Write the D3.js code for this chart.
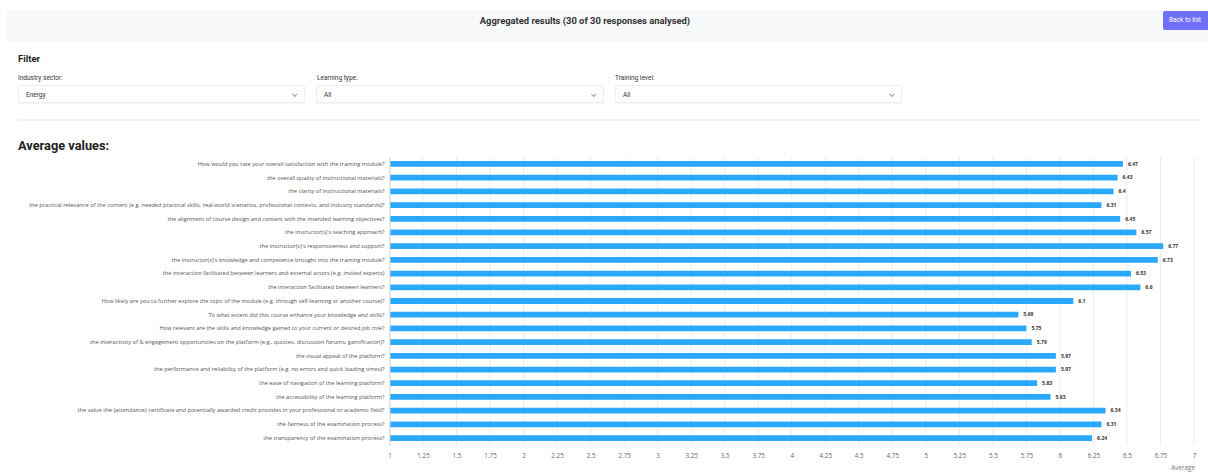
<!DOCTYPE html>
<html>
<head>
<meta charset="utf-8">
<script src="https://cdn.jsdelivr.net/npm/d3@7"></script>
<style>
  html, body { margin: 0; padding: 0; background: #fff; width: 1208px; height: 476px; overflow: hidden; font-family: Roboto, "Noto Sans", sans-serif; }
  .abs { position: absolute; }
  #header { left: 7px; top: 10px; width: 1201px; height: 32px; background: #f7f8fa; }
  #title { left: 7px; top: 10px; width: 1156px; height: 22px; line-height: 22px; text-align: center; font-size: 9.4px; font-weight: 700; color: #333; }
  #btn { left: 1163px; top: 11px; width: 48px; height: 19px; background: #6f6ff7; border-radius: 2px; color: #fff; font-size: 6.5px; line-height: 19px; text-indent: 6px; }
  #filter { left: 18px; top: 53px; font-size: 9.5px; font-weight: 700; color: #222; }
  .lbl { top: 74px; font-size: 6.5px; color: #333; }
  .sel { top: 85px; height: 18px; border: 1px solid #eceef0; border-radius: 2px; box-shadow: 0 1px 2px rgba(0,0,0,0.05); font-size: 6.5px; color: #333; line-height: 18px; box-sizing: border-box; padding-left: 7px; }
  .chev { position: absolute; right: 8px; top: 6px; width: 2.5px; height: 2.5px; border-right: 1px solid #999; border-bottom: 1px solid #999; transform: rotate(45deg); }
  #sep { left: 18px; top: 119px; width: 1182px; height: 2px; background: #f0f1f3; }
  #avg { left: 18px; top: 138px; font-size: 12.8px; font-weight: 700; color: #222; }
  svg { position: absolute; left: 0; top: 0; }
</style>
</head>
<body>
<div id="header" class="abs"></div>
<div id="title" class="abs">Aggregated results (30 of 30 responses analysed)</div>
<div id="btn" class="abs">Back to list</div>
<div id="filter" class="abs">Filter</div>
<div class="abs lbl" style="left:18px">Industry sector:</div>
<div class="abs lbl" style="left:317px">Learning type:</div>
<div class="abs lbl" style="left:615px">Training level:</div>
<div class="abs sel" style="left:18px;width:287px">Energy<span class="chev"></span></div>
<div class="abs sel" style="left:316px;width:288px">All<span class="chev"></span></div>
<div class="abs sel" style="left:615px;width:287px">All<span class="chev"></span></div>
<div id="sep" class="abs"></div>
<div id="avg" class="abs">Average values:</div>
<svg id="chart" width="1208" height="476"></svg>
<script>
const questions = [
  "How would you rate your overall satisfaction with the training module?",
  "the overall quality of instructional materials?",
  "the clarity of instructional materials?",
  "the practical relevance of the content (e.g. needed practical skills, real-world scenarios, professional contexts, and industry standards)?",
  "the alignment of course design and content with the intended learning objectives?",
  "the instructor(s)'s teaching approach?",
  "the instructor(s)'s responsiveness and support?",
  "the instructor(s)'s knowledge and competence brought into the training module?",
  "the interaction facilitated between learners and external actors (e.g. invited experts)",
  "the interaction facilitated between learners?",
  "How likely are you to further explore the topic of the module (e.g. through self-learning or another course)?",
  "To what extent did this course enhance your knowledge and skills?",
  "How relevant are the skills and knowledge gained to your current or desired job role?",
  "the interactivity of & engagement opportunities on the platform (e.g., quizzes, discussion forums, gamification)?",
  "the visual appeal of the platform?",
  "the performance and reliability of the platform (e.g. no errors and quick loading times)?",
  "the ease of navigation of the learning platform?",
  "the accessibility of the learning platform?",
  "the value the (attendance) certificate and potentially awarded credit provides in your professional or academic field?",
  "the fairness of the examination process?",
  "the transparency of the examination process?"
];
const averages = [6.47, 6.43, 6.4, 6.31, 6.45, 6.57, 6.77, 6.73, 6.53, 6.6, 6.1, 5.69, 5.75, 5.79, 5.97, 5.97, 5.83, 5.93, 6.34, 6.31, 6.24];
const xTicks = [1, 1.25, 1.5, 1.75, 2, 2.25, 2.5, 2.75, 3, 3.25, 3.5, 3.75, 4, 4.25, 4.5, 4.75, 5, 5.25, 5.5, 5.75, 6, 6.25, 6.5, 6.75, 7];
const axisTitle = "Average";

(function () {
const svg = d3.select("#chart");
const plotL = 389.5, plotR = 1194, plotT = 157, plotB = 445;
const x = d3.scaleLinear().domain([1, 7]).range([plotL, plotR]);
const y = d3.scaleBand().domain(questions).range([plotT, plotB]).paddingInner(0.58).paddingOuter(0.3);

const g = svg.append("g");
g.selectAll("line.grid").data(xTicks.slice(1)).join("line")
  .attr("class", "grid")
  .attr("x1", d => x(d)).attr("x2", d => x(d))
  .attr("y1", plotT).attr("y2", plotB)
  .attr("stroke", "#ededed").attr("stroke-width", 1);

const xAxis = d3.axisBottom(x).tickValues(xTicks).tickSize(0).tickPadding(0).tickFormat(d => d3.format("~g")(d));
const xa = g.append("g").attr("transform", `translate(0,${plotB + 9})`).call(xAxis);
xa.select(".domain").remove();
xa.selectAll("text").attr("font-size", "6.3px").attr("fill", "#666").attr("font-family", "'Open Sans', sans-serif");

g.selectAll("rect.bar").data(averages).join("rect")
  .attr("class", "bar")
  .attr("x", x(1) + 0.5)
  .attr("y", (d, i) => y(questions[i]))
  .attr("width", d => x(d) - x(1) - 0.5)
  .attr("height", y.bandwidth())
  .attr("fill", "#2aa9fb")
  .attr("rx", 0.5);

const yAxis = d3.axisLeft(y).tickSize(0).tickPadding(5);
const ya = g.append("g").attr("transform", `translate(${plotL},0)`).call(yAxis);
ya.select(".domain").attr("stroke", "#cfcfcf").attr("stroke-width", 1);
ya.selectAll("text").attr("font-size", "5.7px").attr("fill", "#555").attr("font-family", "'Open Sans', sans-serif");

g.selectAll("text.val").data(averages).join("text")
  .attr("class", "val")
  .attr("x", d => x(d) + 5)
  .attr("y", (d, i) => y(questions[i]) + y.bandwidth() / 2)
  .attr("dy", "0.35em")
  .attr("font-size", "5px").attr("font-weight", 700).attr("fill", "#333")
  .attr("font-family", "'Open Sans', sans-serif")
  .text(d => d3.format("~g")(d));

g.append("text").attr("x", 1195).attr("y", 470).attr("text-anchor", "end")
  .attr("font-size", "6.3px").attr("fill", "#777").attr("font-family", "'Open Sans', sans-serif")
  .text(axisTitle);
})();
</script>
</body>
</html>
